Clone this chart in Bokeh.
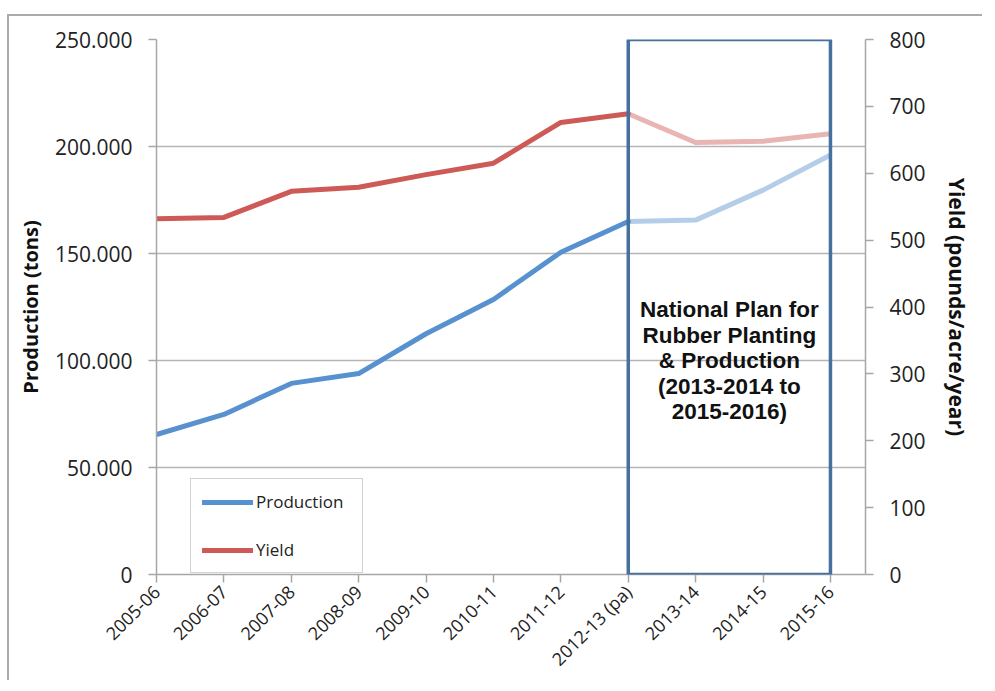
import math
from bokeh.plotting import figure
from bokeh.models import (Range1d, LinearAxis, FixedTicker, BoxAnnotation,
                          Legend, LegendItem, ColumnDataSource)
from bokeh.core.properties import value
from bokeh.embed import file_html
from bokeh.resources import INLINE

# ---------------- data ----------------
categories = ["2005-06", "2006-07", "2007-08", "2008-09", "2009-10", "2010-11",
              "2011-12", "2012-13 (pa)", "2013-14", "2014-15", "2015-16"]
production = [65400, 74800, 89300, 93900, 112500, 128500, 150600, 165000,
              165600, 179600, 196000]          # tons
yield_vals = [532, 534, 573, 579, 598, 615, 676, 689, 646, 648, 659]  # pounds/acre/year
last_actual = "2012-13 (pa)"                  # projections start after this
plan_start, plan_end = "2012-13 (pa)", "2015-16"

left_ticks = [0, 50000, 100000, 150000, 200000, 250000]
left_tick_labels = ["0", "50.000", "100.000", "150.000", "200.000", "250.000"]
right_ticks = [0, 100, 200, 300, 400, 500, 600, 700, 800]

note_lines = ["National Plan for", "Rubber Planting", "& Production",
              "(2013-2014 to", "2015-2016)"]

# ---------------- styling ----------------
BLUE = "#5891cf"
RED = "#cd5a56"
AXIS_GREY = "#a6a6a6"
GRID_GREY = "#b5b5b5"
TEXT = "#222222"
FONT = "Open Sans"

xs = list(range(len(categories)))
split = categories.index(last_actual)

p = figure(width=975, height=666, output_backend="svg", toolbar_location=None,
           x_range=Range1d(0, 10.52), y_range=Range1d(0, 250000),
           min_border_left=147, min_border_top=23, min_border_right=119,
           min_border_bottom=108)
p.styles = {"margin-top": "14px", "margin-left": "7px",
            "border-left": "2px solid #ababab",
            "border-top": "2px solid #ababab"}
p.outline_line_color = None
p.background_fill_color = "white"
p.border_fill_color = "white"

p.extra_y_ranges = {"yield": Range1d(0, 800)}

# grids
p.xgrid.grid_line_color = None
p.ygrid.grid_line_color = GRID_GREY
p.ygrid.grid_line_width = 1.3
p.ygrid.ticker = FixedTicker(ticks=left_ticks)

# left axis
ya = p.yaxis[0]
ya.ticker = FixedTicker(ticks=left_ticks)
ya.major_label_overrides = {t: l for t, l in zip(left_ticks, left_tick_labels)}
ya.axis_label = "Production (tons)"

# bottom axis
xa = p.xaxis[0]
xa.ticker = FixedTicker(ticks=xs)
xa.major_label_overrides = {i: c for i, c in zip(xs, categories)}
xa.major_label_orientation = math.pi / 4

# right axis
ra = LinearAxis(y_range_name="yield", ticker=FixedTicker(ticks=right_ticks),
                axis_label="Yield (pounds/acre/year)")
p.add_layout(ra, "right")

for ax in [ya, xa, ra]:
    ax.axis_line_color = AXIS_GREY
    ax.axis_line_width = 1.5
    ax.major_tick_line_color = AXIS_GREY
    ax.major_tick_line_width = 1.5
    ax.major_tick_out = 8
    ax.major_tick_in = 0
    ax.minor_tick_line_color = None
    ax.major_label_text_font = FONT
    ax.major_label_text_color = TEXT
    ax.axis_label_text_font = FONT
    ax.axis_label_text_font_style = "bold"
    ax.axis_label_text_color = "#111111"

ya.major_label_text_font_size = "21px"
ya.major_label_standoff = 16
ya.axis_label_standoff = 8
ya.axis_label_text_font_size = "20px"
ra.major_label_text_font_size = "21px"
ra.major_label_standoff = 16
ra.axis_label_standoff = 14
ra.axis_label_text_font_size = "21px"
xa.major_label_text_font_size = "18px"
xa.major_label_standoff = 6

# lines: actual + projected (lighter)
src_prod_a = ColumnDataSource(dict(x=xs[:split + 1], y=production[:split + 1]))
src_prod_p = ColumnDataSource(dict(x=xs[split:], y=production[split:]))
src_yld_a = ColumnDataSource(dict(x=xs[:split + 1], y=yield_vals[:split + 1]))
src_yld_p = ColumnDataSource(dict(x=xs[split:], y=yield_vals[split:]))

r_yld = p.line("x", "y", source=src_yld_a, y_range_name="yield", line_color=RED,
               line_width=5, line_join="round", line_cap="round")
p.line("x", "y", source=src_yld_p, y_range_name="yield", line_color=RED,
       line_alpha=0.45, line_width=5, line_join="round")
r_prod = p.line("x", "y", source=src_prod_a, line_color=BLUE, line_width=5,
                line_join="round", line_cap="round")
p.line("x", "y", source=src_prod_p, line_color=BLUE, line_alpha=0.45,
       line_width=5, line_join="round")

# plan box
box = BoxAnnotation(left=categories.index(plan_start), right=categories.index(plan_end),
                    bottom=0, top=250000, fill_alpha=0, line_color="#46709f",
                    line_alpha=1.0, line_width=3.5)
p.add_layout(box)

# plan text
cx = (categories.index(plan_start) + categories.index(plan_end)) / 2
note_top, note_step = 123800, 11950
note_src = ColumnDataSource(dict(
    x=[cx] * len(note_lines),
    y=[note_top - i * note_step for i in range(len(note_lines))],
    t=note_lines))
p.text("x", "y", text="t", source=note_src, text_align="center",
       text_baseline="alphabetic", text_font=value("Liberation Sans"),
       text_font_style="bold", text_font_size="22.5px", text_color="#111111")

# legend
legend = Legend(items=[LegendItem(label="Production", renderers=[r_prod]),
                       LegendItem(label="Yield", renderers=[r_yld])],
                location=(34, 1), orientation="vertical")
legend.label_text_font = FONT
legend.label_text_font_size = "17px"
legend.label_text_color = TEXT
legend.glyph_width = 51
legend.glyph_height = 20
legend.label_height = 20
legend.label_width = 95
legend.label_standoff = 3
legend.spacing = 25
legend.padding = 11
legend.margin = 0
legend.border_line_color = AXIS_GREY
legend.border_line_width = 1.5
legend.background_fill_alpha = 1
p.add_layout(legend)

open("out.html", "w").write(file_html(p, INLINE))
